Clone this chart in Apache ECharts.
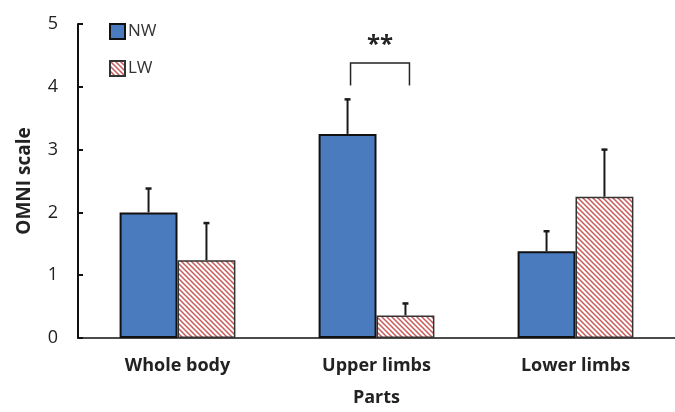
<!DOCTYPE html>
<html>
<head>
<meta charset="utf-8">
<script src="https://cdn.jsdelivr.net/npm/echarts@6/dist/echarts.min.js"></script>
<style>
html,body{margin:0;padding:0;background:#fff;}
#chart{width:675px;height:412px;}
</style>
</head>
<body>
<div id="chart"></div>
<script>
var categories = ['Whole body', 'Upper limbs', 'Lower limbs'];
var seriesNames = ['NW', 'LW'];
var nwValues = [2.0, 3.25, 1.38];
var lwValues = [1.24, 0.36, 2.25];
var nwErrTop = [2.38, 3.80, 1.70];
var lwErrTop = [1.83, 0.55, 3.00];
var yTicks = [0, 1, 2, 3, 4, 5];
// significance bracket over Upper limbs: [category index, low y, high y, label y]
var sigCategory = 1;
var sigBracket = [4.02, 4.38];
var sigLabelY = 4.66;
var sigLabel = '**';

var FONT = '"Open Sans", "Noto Sans", sans-serif';
var BAR_FRAC = 0.291;

function hatch() {
  var c = document.createElement('canvas');
  c.width = 5; c.height = 5;
  var g = c.getContext('2d');
  g.fillStyle = '#ffffff';
  g.fillRect(0, 0, 5, 5);
  g.strokeStyle = '#c85a5a';
  g.lineWidth = 1.5;
  g.beginPath();
  g.moveTo(-1, -1); g.lineTo(6, 6);
  g.moveTo(-4, 1); g.lineTo(4, 9);
  g.moveTo(1, -4); g.lineTo(9, 4);
  g.stroke();
  return c;
}

var chart = echarts.init(document.getElementById('chart'));

function errSeries(values, tops, sign) {
  return {
    type: 'custom',
    silent: true,
    z: 5,
    data: values.map(function (v, i) { return [i, v, tops[i]]; }),
    renderItem: function (params, api) {
      var w = api.size([1, 0])[0];
      var off = sign * w * BAR_FRAC / 2;
      var p0 = api.coord([api.value(0), api.value(1)]);
      var p1 = api.coord([api.value(0), api.value(2)]);
      var x = p0[0] + off;
      return {
        type: 'group',
        children: [
          { type: 'line', shape: { x1: x, y1: p0[1], x2: x, y2: p1[1] }, style: { stroke: '#1a1a1a', lineWidth: 2 } },
          { type: 'line', shape: { x1: x - 3, y1: p1[1], x2: x + 3, y2: p1[1] }, style: { stroke: '#1a1a1a', lineWidth: 2.5 } }
        ]
      };
    }
  };
}

var option = {
  backgroundColor: '#ffffff',
  animation: false,
  textStyle: { fontFamily: FONT },
  legend: {
    orient: 'vertical',
    left: 104,
    top: 18,
    itemGap: 20,
    itemWidth: 15,
    itemHeight: 15,
    icon: 'rect',
    data: seriesNames,
    textStyle: { fontSize: 17, color: '#333', fontFamily: FONT, padding: [0, 0, 0, -2] }
  },
  grid: { left: 78, top: 24, width: 603, height: 317, containLabel: false },
  xAxis: {
    type: 'category',
    data: categories,
    name: 'Parts',
    nameLocation: 'middle',
    nameGap: 51,
    nameTextStyle: { fontSize: 18, fontWeight: 'bold', color: '#222', fontFamily: FONT },
    axisLine: { lineStyle: { color: '#111', width: 1.5 } },
    axisTick: { inside: true, length: 6, lineStyle: { color: '#111', width: 1.5 } },
    axisLabel: { fontSize: 18, fontWeight: 'bold', color: '#222', margin: 19, fontFamily: FONT }
  },
  yAxis: {
    type: 'value',
    min: yTicks[0],
    max: yTicks[yTicks.length - 1],
    interval: 1,
    name: 'OMNI scale',
    nameLocation: 'middle',
    nameGap: 44,
    nameTextStyle: { fontSize: 19, fontWeight: 'bold', color: '#222', fontFamily: FONT },
    axisLine: { show: true, lineStyle: { color: '#111', width: 2 } },
    axisTick: { show: true, inside: true, length: 5, lineStyle: { color: '#111', width: 2 } },
    splitLine: { show: false },
    axisLabel: { fontSize: 18, color: '#222', margin: 20, fontFamily: FONT }
  },
  series: [
    {
      name: seriesNames[0],
      type: 'bar',
      data: nwValues,
      barWidth: (BAR_FRAC * 100) + '%',
      barGap: '0%',
      itemStyle: { color: '#4a7bbf', borderColor: '#111', borderWidth: 2 }
    },
    {
      name: seriesNames[1],
      type: 'bar',
      data: lwValues,
      barWidth: (BAR_FRAC * 100) + '%',
      barGap: '0%',
      itemStyle: { color: { image: hatch(), repeat: 'repeat' }, borderColor: '#333', borderWidth: 1.5 }
    },
    errSeries(nwValues, nwErrTop, -1),
    errSeries(lwValues, lwErrTop, 1),
    {
      type: 'custom',
      silent: true,
      z: 6,
      data: [[sigCategory, sigBracket[0], sigBracket[1], sigLabelY]],
      renderItem: function (params, api) {
        var w = api.size([1, 0])[0];
        var c = api.value(0);
        var pl = api.coord([c, api.value(1)]);
        var ph = api.coord([c, api.value(2)]);
        var pt = api.coord([c, api.value(3)]);
        var xl = pl[0] - w * BAR_FRAC / 2 + 3;
        var xr = pl[0] + w * BAR_FRAC / 2 + 4;
        return {
          type: 'group',
          children: [
            { type: 'polyline', shape: { points: [[xl, pl[1]], [xl, ph[1]], [xr, ph[1]], [xr, pl[1]]] }, style: { stroke: '#222', lineWidth: 1.5, fill: null } },
            { type: 'text', style: { x: (xl + xr) / 2, y: pt[1], text: sigLabel, textAlign: 'center', textVerticalAlign: 'middle', font: 'bold 24px ' + FONT, fill: '#222' } }
          ]
        };
      }
    }
  ]
};
chart.setOption(option);
</script>
</body>
</html>
